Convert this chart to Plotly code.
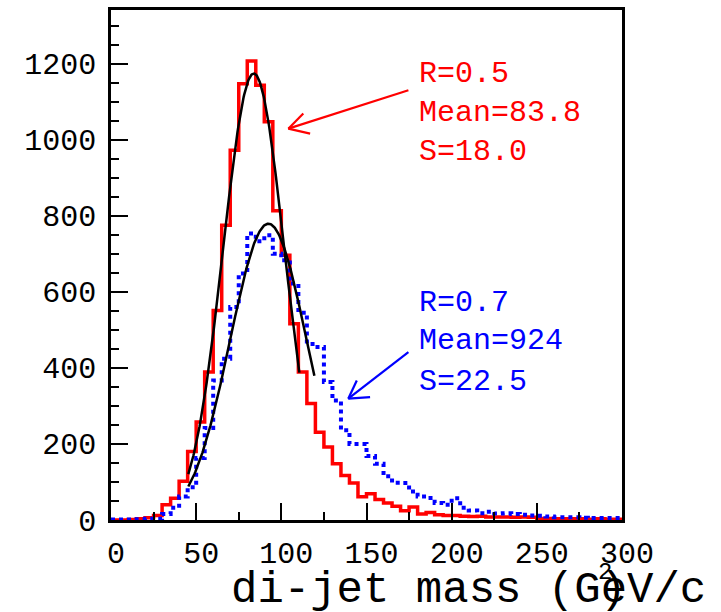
import plotly.graph_objects as go
import numpy as np

# ---------------- data ----------------
bin_width = 5
bin_lo = list(range(0, 300, bin_width))  # lower edges 0..295

r05_counts = [0, 0, 1, 3, 6, 12, 40, 57, 102, 180,
              258, 389, 551, 775, 972, 1147, 1207, 1143, 1047, 813,
              696, 516, 389, 306, 231, 192, 148, 117, 97, 61,
              69, 54, 45, 36, 24, 34, 16, 20, 14, 12,
              12, 10, 9, 10, 8, 8, 8, 7, 8, 7,
              4, 4, 3, 3, 3, 3, 2, 3, 2, 2]

r07_counts = [1, 1, 1, 2, 3, 3, 16, 32, 62, 86,
              163, 242, 367, 424, 560, 648, 753, 733, 749, 700,
              683, 622, 545, 463, 455, 363, 314, 236, 200, 200,
              168, 148, 115, 98, 97, 75, 62, 58, 45, 40,
              57, 32, 25, 18, 22, 17, 18, 16, 14, 12,
              11, 9, 7, 7, 7, 6, 5, 5, 5, 5]

# Gaussian fits (amplitude, mean, sigma, fit range)
fit05 = dict(amp=1174, mean=83.8, sigma=18.0, lo=45.4, hi=110.6)
fit07 = dict(amp=779, mean=92.4, sigma=22.5, lo=45.4, hi=119.4)

x_ticks = [0, 50, 100, 150, 200, 250, 300]
y_ticks = [0, 200, 400, 600, 800, 1000, 1200]

red_text = ["R=0.5", "Mean=83.8", "S=18.0"]
blue_text = ["R=0.7", "Mean=924", "S=22.5"]

# arrows (data coordinates): tail, tip, two head ends
red_arrow = dict(tail=(174.6, 1130), tip=(104.1, 1029), h1=(112.9, 1069), h2=(116.9, 1016))
blue_arrow = dict(tail=(174.6, 441.6), tip=(139.3, 319), h1=(144.3, 367), h2=(152.1, 323))

# ---------------- figure ----------------
W, H = 721, 612
ML, MR, MT, MB = 111, 99, 10, 92
PW, PH = W - ML - MR, H - MT - MB

def px2paper(px, py):
    return (px - ML) / PW, (H - MB - py) / PH

FONT = "Liberation Mono, Courier New, monospace"

def step_xy(counts):
    xs = bin_lo + [bin_lo[-1] + bin_width]
    ys = counts + [counts[-1]]
    return xs, ys

fig = go.Figure()

xs, ys = step_xy(r05_counts)
fig.add_trace(go.Scatter(x=xs, y=ys, mode="lines", line=dict(shape="hv", color="#ff0000", width=3.5),
                         showlegend=False, hoverinfo="skip"))
xs, ys = step_xy(r07_counts)
fig.add_trace(go.Scatter(x=xs, y=ys, mode="lines", line=dict(shape="hv", color="#0000ff", width=4, dash="dot"),
                         showlegend=False, hoverinfo="skip"))

for f in (fit05, fit07):
    fx = np.linspace(f["lo"], f["hi"], 200)
    fy = f["amp"] * np.exp(-0.5 * ((fx - f["mean"]) / f["sigma"]) ** 2)
    fig.add_trace(go.Scatter(x=fx, y=fy, mode="lines", line=dict(color="black", width=2.5),
                             showlegend=False, hoverinfo="skip"))

shapes = []
for arr, col in ((red_arrow, "#ff0000"), (blue_arrow, "#0000ff")):
    for a, b in (("tail", "tip"), ("h1", "tip"), ("h2", "tip")):
        shapes.append(dict(type="line", xref="x", yref="y",
                           x0=arr[a][0], y0=arr[a][1], x1=arr[b][0], y1=arr[b][1],
                           line=dict(color=col, width=2.2)))

annotations = []
for txt, py in zip(red_text, (74, 113, 152)):
    x, y = px2paper(417, py)
    annotations.append(dict(xref="paper", yref="paper", x=x, y=y, text=txt, showarrow=False,
                            xanchor="left", yanchor="middle", font=dict(family=FONT, size=30, color="#ff0000")))
for txt, py in zip(blue_text, (302.5, 341, 381.7)):
    x, y = px2paper(417, py)
    annotations.append(dict(xref="paper", yref="paper", x=x, y=y, text=txt, showarrow=False,
                            xanchor="left", yanchor="middle", font=dict(family=FONT, size=30, color="#0000ff")))

# axis title (rendered as in the original, with misplaced superscript)
x, y = px2paper(229, 590)
annotations.append(dict(xref="paper", yref="paper", x=x, y=y, text="di-jet mass (GeV/c", showarrow=False,
                        xanchor="left", yanchor="middle", font=dict(family=FONT, size=44, color="black")))
x, y = px2paper(605, 572)
annotations.append(dict(xref="paper", yref="paper", x=x, y=y, text="2", showarrow=False,
                        xanchor="center", yanchor="middle", font=dict(family=FONT, size=24, color="black")))
x, y = px2paper(613, 590)
annotations.append(dict(xref="paper", yref="paper", x=x, y=y, text=")", showarrow=False,
                        xanchor="center", yanchor="middle", font=dict(family=FONT, size=44, color="black")))

axis_common = dict(showline=True, linecolor="black", linewidth=2.5, mirror=True,
                   ticks="inside", tickcolor="black", tickwidth=2, ticklen=17,
                   showgrid=False, zeroline=False,
                   tickfont=dict(family=FONT, size=30, color="black"))

fig.update_layout(
    width=W, height=H,
    margin=dict(l=ML, r=MR, t=MT, b=MB, autoexpand=False),
    paper_bgcolor="white", plot_bgcolor="white",
    xaxis=dict(range=[0, 300], tickvals=x_ticks, ticktext=[str(v) for v in x_ticks],
               minor=dict(dtick=25, tick0=0, ticks="inside", ticklen=8, tickwidth=2, tickcolor="black"),
               ticklabelshift=5, ticklabelstandoff=4, **axis_common),
    yaxis=dict(range=[0, 1341], tickvals=y_ticks, ticktext=[str(v) for v in y_ticks],
               minor=dict(dtick=50, tick0=0, ticks="inside", ticklen=8, tickwidth=2, tickcolor="black"),
               ticklabelstandoff=6, **axis_common),
    shapes=shapes, annotations=annotations,
)

fig.write_html("out.html")
